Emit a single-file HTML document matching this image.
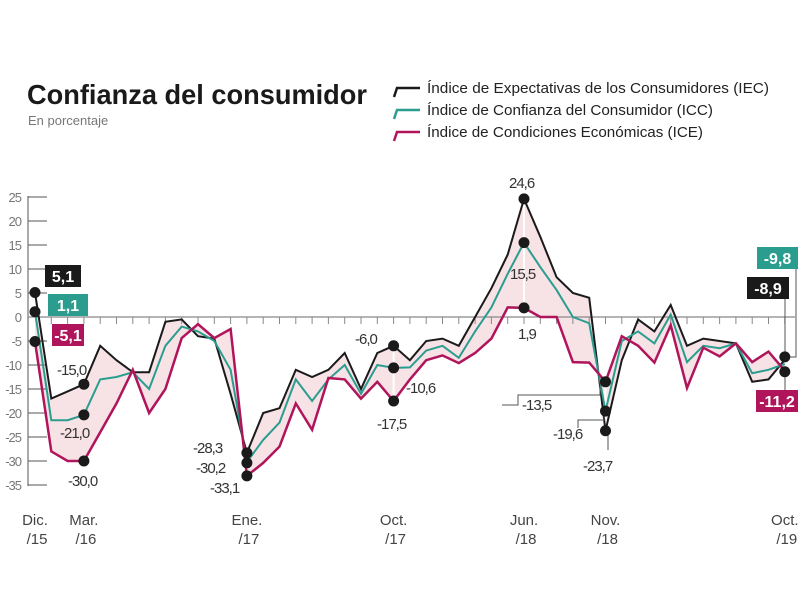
<!DOCTYPE html>
<html><head><meta charset="utf-8"><style>
body{margin:0;background:#fff;width:800px;height:600px;overflow:hidden;font-family:"Liberation Sans Narrow","Liberation Sans",sans-serif;}
svg text{font-family:"Liberation Sans Narrow","Liberation Sans",sans-serif;}
</style></head><body>
<svg id="s" width="800" height="600" xmlns="http://www.w3.org/2000/svg">
<text x="27" y="104" font-family="Liberation Sans" font-weight="bold" font-size="28" fill="#1a1a1a" textLength="340" lengthAdjust="spacingAndGlyphs">Confianza del consumidor</text>
<text x="28" y="125" font-size="13" fill="#777">En porcentaje</text>
<g font-size="15" fill="#222">
<path d="M394 97 L397 88 L420 88" stroke="#1a1a1a" stroke-width="2.5" fill="none"/>
<text x="427" y="93" textLength="342" lengthAdjust="spacingAndGlyphs">Índice de Expectativas de los Consumidores (IEC)</text>
<path d="M394 119 L397 110 L420 110" stroke="#2a9d8f" stroke-width="2.5" fill="none"/>
<text x="427" y="115" textLength="286" lengthAdjust="spacingAndGlyphs">Índice de Confianza del Consumidor (ICC)</text>
<path d="M394 141 L397 132 L420 132" stroke="#b0155c" stroke-width="2.5" fill="none"/>
<text x="427" y="137" textLength="276" lengthAdjust="spacingAndGlyphs">Índice de Condiciones Económicas (ICE)</text>
</g>
<g id="g"></g>
</svg>
<script>
var X=function(i){return 35+i*16.3},Y=function(v){return 317-4.8*v};
var iec=[5.1,-17,-15.5,-14,-6,-9,-11.5,-11.5,-1,-0.5,-4,-4.5,-16,-28.3,-20,-19,-11,-12.5,-11,-7.5,-15,-7.5,-6,-9,-5,-4.5,-6,0,6,13,24.6,16.7,8.3,5,4,-23.7,-9,-0.5,-3,2.5,-6,-4.5,-5,-5.5,-13.5,-13,-8.9];
var icc=[1.1,-21.5,-21.5,-20.4,-13,-12.5,-11.5,-15,-6,-2,-3,-5,-11,-30.2,-25.6,-22,-13,-17.5,-13,-10,-16,-10,-10.6,-10.5,-7,-6,-8.5,-3,2,9,15.5,10.4,5.6,0,-1.3,-19.6,-5,-3,-5.5,0.5,-9.4,-6,-6.5,-5.5,-11.7,-11,-9.8];
var ice=[-5.1,-28,-30,-30,-24,-18,-11,-20,-15,-4.4,-1.5,-4.4,-2.5,-33.1,-30.4,-27,-18,-23.5,-12.7,-13,-17,-13.5,-17.5,-13,-9,-8,-9.6,-7.5,-4.5,2,1.9,0,0,-9.4,-9.5,-13.5,-4,-6,-9.5,-1.7,-14.8,-6.4,-8.2,-5.5,-9.4,-7.2,-11.2];
var h='';
function pts(a){return a.map(function(v,i){return X(i).toFixed(1)+','+Y(v).toFixed(1)}).join(' ')}
var poly=pts(iec)+' '+ice.map(function(v,i){return [X(i),Y(v)]}).reverse().map(function(p){return p[0].toFixed(1)+','+p[1].toFixed(1)}).join(' ');
h+='<polygon points="'+poly+'" fill="#f7e2e6"/>';
[13,22,30,35].forEach(function(i){h+='<line x1="'+X(i)+'" y1="200" x2="'+X(i)+'" y2="500" stroke="#fff" stroke-width="2"/>'});
for(var v=25;v>=-35;v-=5){var y=Y(v);h+='<line x1="28" y1="'+y+'" x2="47" y2="'+y+'" stroke="#555" stroke-width="1"/>';h+='<text x="21" y="'+(y+5)+'" font-size="13" fill="#777" text-anchor="end" letter-spacing="-1">'+v+'</text>';}
h+='<line x1="28" y1="196" x2="28" y2="486" stroke="#555"/>';
h+='<line x1="28" y1="317" x2="795" y2="317" stroke="#888" stroke-width="1.2"/>';
for(var i=1;i<=46;i++){h+='<line x1="'+X(i)+'" y1="317" x2="'+X(i)+'" y2="324" stroke="#888"/>'}
h+='<polyline points="'+pts(iec)+'" fill="none" stroke="#1a1a1a" stroke-width="2"/>';
h+='<polyline points="'+pts(icc)+'" fill="none" stroke="#2a9d8f" stroke-width="2"/>';
h+='<polyline points="'+pts(ice)+'" fill="none" stroke="#b0155c" stroke-width="2.5"/>';
h+='<path d="M502 405 L518 405 L518 395 L600 395 L600 381" stroke="#555" fill="none"/>';
h+='<path d="M578 428 L578 420 L604 420 L604 412" stroke="#555" fill="none"/>';
h+='<path d="M608 432 L608 450" stroke="#555" fill="none"/>';
h+='<path d="M785 298 L785 357 M785 372 L785 392 M785 357 L796 357 L796 269" stroke="#555" fill="none"/>';
var dots=[[0,5.1],[0,1.1],[0,-5.1],[3,-14],[3,-20.4],[3,-30],[13,-28.3],[13,-30.4],[13,-33.1],[22,-6],[22,-10.6],[22,-17.5],[30,24.6],[30,15.5],[30,1.9],[35,-13.5],[35,-19.6],[35,-23.7],[46,-8.3],[46,-11.4]];
dots.forEach(function(d){h+='<circle cx="'+X(d[0])+'" cy="'+Y(d[1])+'" r="5.5" fill="#1a1a1a"/>'});
function lab(x,y,t){h+='<text x="'+x+'" y="'+y+'" font-size="15" fill="#333" letter-spacing="-1">'+t+'</text>'}
lab(57,375,'-15,0');lab(60,438,'-21,0');lab(68,486,'-30,0');
lab(193,453,'-28,3');lab(196,473,'-30,2');lab(210,493,'-33,1');
lab(355,344,'-6,0');lab(406,393,'-10,6');lab(377,429,'-17,5');
lab(509,188,'24,6');lab(510,279,'15,5');lab(518,339,'1,9');
lab(522,410,'-13,5');lab(553,439,'-19,6');lab(583,471,'-23,7');
function box(x,y,w,c,t){h+='<rect x="'+x+'" y="'+y+'" width="'+w+'" height="22" fill="'+c+'"/><text x="'+(x+w/2)+'" y="'+(y+17)+'" font-size="16" font-weight="bold" fill="#fff" text-anchor="middle" font-family="Liberation Sans">'+t+'</text>'}
box(45,265,36,'#1a1a1a','5,1');box(48,294,40,'#2a9d8f','1,1');box(52,324,32,'#b0155c','-5,1');
box(757,247,41,'#2a9d8f','-9,8');box(747,277,42,'#1a1a1a','-8,9');box(756,390,42,'#b0155c','-11,2');
var xl=[[0,'Dic.','/15'],[3,'Mar.','/16'],[13,'Ene.','/17'],[22,'Oct.','/17'],[30,'Jun.','/18'],[35,'Nov.','/18'],[46,'Oct.','/19']];
xl.forEach(function(a){var x=X(a[0]);h+='<text x="'+x+'" y="525" font-size="15" fill="#444" text-anchor="middle">'+a[1]+'</text><text x="'+(x+2)+'" y="544" font-size="15" fill="#444" text-anchor="middle">'+a[2]+'</text>'});
document.getElementById('g').innerHTML=h;
</script>
</body></html>
